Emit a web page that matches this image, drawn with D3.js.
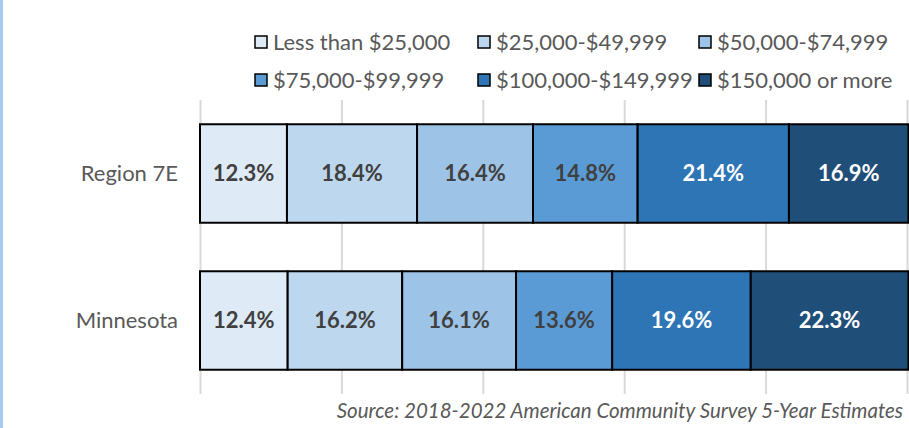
<!DOCTYPE html>
<html>
<head>
<meta charset="utf-8">
<script src="https://cdn.jsdelivr.net/npm/d3@7"></script>
<style>
  body { margin: 0; background: #fff; }
  svg { display: block; font-family: Lato, "Open Sans", sans-serif; }
</style>
</head>
<body>
<div id="main"></div>
<script>
// data
const regions = ["Region 7E", "Minnesota"];
const brackets = ["Less than $25,000", "$25,000-$49,999", "$50,000-$74,999",
                  "$75,000-$99,999", "$100,000-$149,999", "$150,000 or more"];
const region7E = [12.3, 18.4, 16.4, 14.8, 21.4, 16.9];
const minnesota = [12.4, 16.2, 16.1, 13.6, 19.6, 22.3];
const gridTicks = [0, 20, 40, 60, 80, 100];
const sourceNote = "Source: 2018-2022 American Community Survey 5-Year Estimates";

const colors = ["#DEEBF7", "#BDD7EE", "#9DC3E6", "#5B9BD5", "#2E75B6", "#1F4E79"];
const labelColors = ["#404040", "#404040", "#404040", "#404040", "#ffffff", "#ffffff"];

const config = {width: 909, height: 428, left: 200, right: 2, top: 100, bottom: 34};

const svg = d3.select("#main").append("svg")
    .attr("width", config.width)
    .attr("height", config.height);

// left border of the page
svg.append("rect")
    .attr("x", 0).attr("y", 0)
    .attr("width", 3).attr("height", config.height)
    .attr("fill", "#A9CCEE");

const xScale = d3.scaleLinear()
    .domain([0, 100])
    .range([config.left, config.width - config.right]);

const yScale = d3.scaleBand()
    .domain(regions)
    .range([config.top, config.height - config.bottom])
    .paddingInner(0.33)
    .paddingOuter(0.165);

// gridlines
const xAxis = d3.axisBottom(xScale)
    .tickValues(gridTicks)
    .tickSize(-(config.height - config.bottom - config.top))
    .tickFormat("");
svg.append("g")
    .attr("transform", `translate(0,${config.height - config.bottom})`)
    .call(xAxis)
    .call(g => g.select(".domain").remove())
    .call(g => g.selectAll(".tick line").attr("stroke", "#d9d9d9").attr("stroke-width", 2));

// stack the rows
const rows = regions.map((r, i) => {
  const vals = i === 0 ? region7E : minnesota;
  let acc = 0;
  return vals.map((v, j) => {
    const seg = {region: r, k: j, value: v, x0: acc, x1: acc + v};
    acc += v;
    return seg;
  });
}).flat();

const bars = svg.append("g");
bars.selectAll("rect")
    .data(rows)
    .enter()
    .append("rect")
      .attr("x", d => xScale(d.x0))
      .attr("y", d => yScale(d.region))
      .attr("width", d => xScale(d.x1) - xScale(d.x0))
      .attr("height", yScale.bandwidth())
      .attr("fill", d => colors[d.k])
      .attr("stroke", "#000")
      .attr("stroke-width", 2);

bars.selectAll("text")
    .data(rows)
    .enter()
    .append("text")
      .attr("x", d => (xScale(d.x0) + xScale(d.x1)) / 2)
      .attr("y", d => yScale(d.region) + yScale.bandwidth() / 2)
      .attr("dy", "0.35em")
      .attr("text-anchor", "middle")
      .attr("font-size", 22)
      .attr("font-weight", "bold")
      .attr("fill", d => labelColors[d.k])
      .text(d => d.value.toFixed(1) + "%");

// category labels
svg.append("g").selectAll("text")
    .data(regions)
    .enter()
    .append("text")
      .attr("x", 178)
      .attr("y", d => yScale(d) + yScale.bandwidth() / 2)
      .attr("dy", "0.35em")
      .attr("text-anchor", "end")
      .attr("font-size", 22)
      .attr("fill", "#595959")
      .text(d => d);

// legend
const legendCols = [255, 478, 699];
const legendRows = [42, 80];
const legend = svg.append("g").selectAll("g")
    .data(brackets)
    .enter()
    .append("g")
      .attr("transform", (d, i) => `translate(${legendCols[i % 3]},${legendRows[Math.floor(i / 3)]})`);
legend.append("rect")
    .attr("x", 0).attr("y", -6)
    .attr("width", 12).attr("height", 12)
    .attr("fill", (d, i) => colors[i])
    .attr("stroke", "#000")
    .attr("stroke-width", 1.5);
legend.append("text")
    .attr("x", 18)
    .attr("dy", "0.35em")
    .attr("font-size", 22)
    .attr("fill", "#595959")
    .text(d => d);

// source
svg.append("text")
    .attr("x", 903)
    .attr("y", 418)
    .attr("text-anchor", "end")
    .attr("font-size", 20.5)
    .attr("font-style", "italic")
    .attr("fill", "#595959")
    .text(sourceNote);
</script>
</body>
</html>
